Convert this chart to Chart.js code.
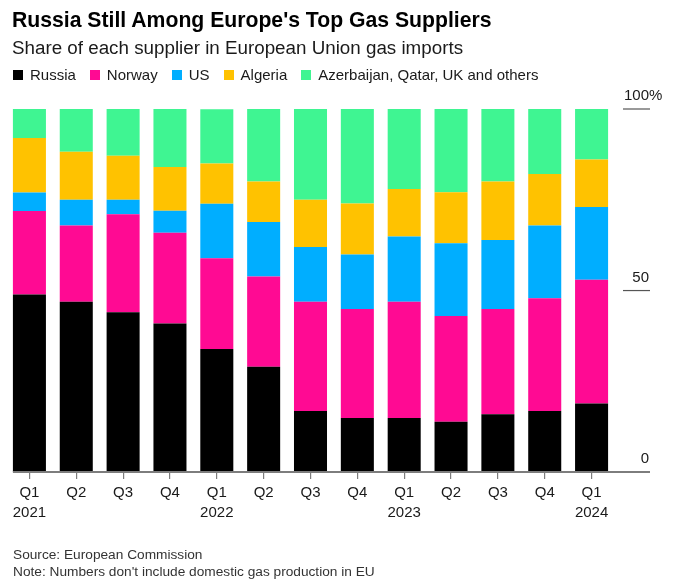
<!DOCTYPE html>
<html>
<head>
<meta charset="utf-8">
<script src="https://cdn.jsdelivr.net/npm/chart.js@4"></script>
<style>
  html, body { margin: 0; padding: 0; background: #fff; }
  #wrap { position: relative; width: 682px; height: 581px; overflow: hidden; font-family: "Liberation Sans", Arial, sans-serif; }
  #chart { position: absolute; left: 0; top: 0; }
  .title { position: absolute; left: 12px; top: 8px; font-size: 21.2px; font-weight: bold; color: #000; }
  .subtitle { position: absolute; left: 12px; top: 37px; font-size: 18.8px; color: #1a1a1a; }
  .legend { position: absolute; left: 13px; top: 66px; font-size: 15px; color: #1a1a1a; display: flex; }
  .legend span { display: inline-flex; align-items: center; margin-right: 14px; }
  .legend i { display: inline-block; width: 10px; height: 10px; margin-right: 7px; }
  .foot { position: absolute; left: 13px; top: 546px; font-size: 13.7px; line-height: 17px; color: #333; }
</style>
</head>
<body>
<div id="wrap">
  <canvas id="chart" width="682" height="581"></canvas>
  <div class="title">Russia Still Among Europe's Top Gas Suppliers</div>
  <div class="subtitle">Share of each supplier in European Union gas imports</div>
  <div class="legend" id="legend"></div>
  <div class="foot">Source: European Commission<br>Note: Numbers don't include domestic gas production in EU</div>
</div>
<script>
// categories
const quarterLabels = ['Q1', 'Q2', 'Q3', 'Q4', 'Q1', 'Q2', 'Q3', 'Q4', 'Q1', 'Q2', 'Q3', 'Q4', 'Q1'];
const yearLabels    = ['2021', '', '', '', '2022', '', '', '', '2023', '', '', '', '2024'];

// share of EU gas imports, %
const russia  = [48.9, 46.9, 44.0, 40.9, 33.9, 29.0, 16.8, 14.9, 14.9, 13.9, 15.9, 16.8, 18.9];
const norway  = [23.0, 21.0, 27.0, 25.0, 25.0, 24.9, 30.1, 30.0, 32.0, 29.1, 29.0, 31.1, 34.1];
const us      = [ 5.1,  7.1,  4.0,  6.1, 15.0, 15.0, 15.1, 15.0, 18.0, 20.0, 19.0, 20.0, 20.0];
const algeria = [15.0, 13.2, 12.1, 12.0, 11.1, 11.1, 13.0, 14.1, 13.1, 14.1, 16.1, 14.2, 13.1];
const others  = [ 8.0, 11.9, 13.0, 16.0, 14.9, 20.0, 25.0, 26.0, 22.0, 23.0, 20.0, 17.9, 14.0];

const seriesNames = ['Russia', 'Norway', 'US', 'Algeria', 'Azerbaijan, Qatar, UK and others'];
const colors = ['#000000', '#ff0a93', '#00aeff', '#ffc200', '#3ff592'];

// y axis ticks
const yTickValues = [0, 50, 100];
const yTickLabels = ['0', '50', '100'];

const FONT = '"Liberation Sans", Arial, sans-serif';

// html legend
const legendEl = document.getElementById('legend');
seriesNames.forEach((name, i) => {
  const s = document.createElement('span');
  s.innerHTML = `<i style="background:${colors[i]}"></i>${name}`;
  legendEl.appendChild(s);
});

// baseline + right-hand value labels, placed with the y scale
const axisPlugin = {
  id: 'axisPlugin',
  afterDatasetsDraw(chart) {
    const { ctx, chartArea, scales } = chart;
    const y = scales.y;
    const x = scales.x;
    const barHalf = (x.getPixelForValue(1) - x.getPixelForValue(0)) * 0.705 / 2;
    const left = x.getPixelForValue(0) - barHalf;
    const tickL = chartArea.right + 8;
    const tickR = chartArea.right + 35;

    ctx.save();
    yTickValues.forEach((v, i) => {
      const py = y.getPixelForValue(v);
      ctx.strokeStyle = v === 0 ? '#7d7d7d' : '#555';
      ctx.lineWidth = v === 0 ? 2 : 1.2;
      ctx.beginPath();
      ctx.moveTo(v === 0 ? left : tickL, py);
      ctx.lineTo(tickR, py);
      ctx.stroke();

      ctx.fillStyle = '#1a1a1a';
      ctx.font = `15px ${FONT}`;
      ctx.textBaseline = 'middle';
      ctx.textAlign = 'right';
      ctx.fillText(yTickLabels[i], tickR - 1, py - 13);
      if (v === 100) {
        ctx.textAlign = 'left';
        ctx.fillText('%', tickR - 1, py - 13);
      }
    });
    ctx.restore();
  }
};

const datasets = [russia, norway, us, algeria, others].map((data, i) => ({
  label: seriesNames[i],
  data,
  backgroundColor: colors[i],
  borderWidth: 0,
  barPercentage: 0.705,
  categoryPercentage: 1,
}));

new Chart(document.getElementById('chart'), {
  type: 'bar',
  data: {
    labels: quarterLabels.map((q, i) => yearLabels[i] ? [q, yearLabels[i]] : [q]),
    datasets,
  },
  options: {
    responsive: false,
    animation: false,
    layout: { padding: { left: 6, right: 67, top: 109, bottom: 54 } },
    plugins: {
      legend: { display: false },
      tooltip: { enabled: false },
    },
    scales: {
      x: {
        stacked: true,
        border: { display: false },
        grid: {
          display: true,
          drawOnChartArea: false,
          offset: false,
          tickLength: 7,
          color: '#7d7d7d',
          lineWidth: 1.2,
        },
        ticks: {
          color: '#1a1a1a',
          font: { size: 15, family: FONT, lineHeight: 1.33 },
          padding: 4,
          maxRotation: 0,
          autoSkip: false,
        },
      },
      y: {
        stacked: true,
        display: false,
        min: 0,
        max: 100,
      },
    },
  },
  plugins: [axisPlugin],
});
</script>
</body>
</html>
